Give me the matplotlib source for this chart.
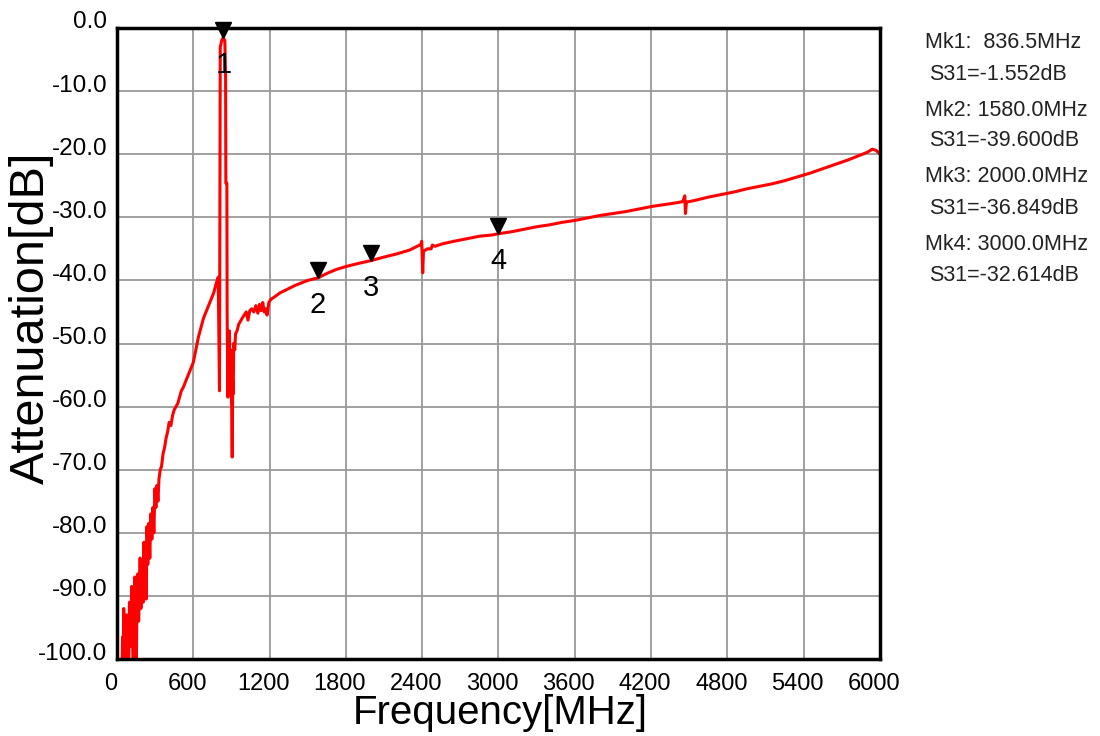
import matplotlib
matplotlib.use("Agg")
import matplotlib.pyplot as plt
import matplotlib.transforms as mtransforms

# S31 trace (MHz, dB)
freq = [40, 44, 48, 53, 58, 63, 68, 74, 80, 86, 92, 98, 104, 110, 116, 122, 128, 134, 140, 146,
        152, 158, 164, 170, 176, 182, 188, 194, 200, 206, 212, 218, 224, 230, 236, 242, 250, 258,
        266, 274, 282, 290, 298, 306, 314, 322, 330, 340, 350, 362, 374, 386, 398, 410, 424, 436,
        450, 464, 478, 492, 506, 520, 540, 560, 580, 600, 620, 640, 660, 680, 700, 720, 740, 760,
        780, 796, 806, 812, 826, 836.5, 848, 854, 856, 864, 866, 872, 876, 880, 884, 888, 894, 898,
        902, 906, 910, 914, 918, 926, 932, 944, 956, 970, 984, 1000, 1016, 1030, 1044, 1060, 1076,
        1092, 1108, 1120, 1134, 1146, 1158, 1170, 1180, 1194, 1210, 1240, 1280, 1320, 1360, 1400,
        1450, 1500, 1580, 1650, 1720, 1800, 1900, 2000, 2100, 2200, 2300, 2390, 2396, 2404, 2410,
        2440, 2470, 2480, 2500, 2560, 2650, 2750, 2850, 2950, 3000, 3100, 3200, 3300, 3400, 3500,
        3600, 3700, 3800, 3900, 4000, 4100, 4200, 4300, 4400, 4450, 4465, 4470, 4478, 4550, 4650,
        4750, 4850, 4950, 5050, 5150, 5250, 5350, 5450, 5550, 5650, 5750, 5850, 5900, 5940, 5970,
        6000]
s31 = [-101, -96.5, -101, -92, -100, -95, -101, -93, -99, -96, -101, -91, -98, -93, -88.5, -97,
       -101, -92, -87, -95, -101, -89, -86.5, -94, -90, -84, -92, -87, -86, -91, -81.5, -88, -84,
       -90.5, -79, -85, -78.5, -84, -77, -81, -76, -80, -73, -76, -72.5, -75, -71.5, -70, -69.5,
       -67.5, -66.5, -65, -64, -62.5, -63, -61.5, -60.5, -60, -59.5, -58.5, -57.5, -57, -56, -55,
       -54, -53, -51, -49, -47.5, -46, -45, -44, -43, -42, -40.5, -39.5, -57.5, -3, -1.8, -1.55,
       -2, -8, -24.6, -24.6, -45, -58.5, -50, -57, -48, -56, -51, -58, -60, -68, -56, -58, -50,
       -51, -48.5, -48, -47, -46.5, -46, -45.5, -45, -46.3, -44.8, -44.5, -45, -44, -45.2, -43.8,
       -44.8, -43.5, -45, -44.5, -45.5, -43.5, -43, -42.6, -42, -41.6, -41.2, -40.8, -40.4, -40,
       -39.6, -38.9, -38.3, -37.8, -37.3, -36.85, -36.3, -35.8, -35.2, -34.3, -33.8, -38.8, -35.4,
       -35, -35, -34.4, -34.6, -34.2, -33.8, -33.4, -33, -32.8, -32.6, -32.3, -31.9, -31.5, -31.2,
       -30.8, -30.5, -30.1, -29.7, -29.4, -29.1, -28.7, -28.3, -28, -27.7, -27.5, -26.6, -29.4,
       -27.6, -27.3, -26.8, -26.4, -26, -25.5, -25.1, -24.7, -24.2, -23.6, -23, -22.3, -21.6,
       -20.9, -20.1, -19.7, -19.2, -19.4, -20]

# markers
mk_names = ["1", "2", "3", "4"]
mk_freq = [836.5, 1580.0, 2000.0, 3000.0]
mk_db = [-1.552, -39.600, -36.849, -32.614]

xticks = [0, 600, 1200, 1800, 2400, 3000, 3600, 4200, 4800, 5400, 6000]
yticks = [0, -10, -20, -30, -40, -50, -60, -70, -80, -90, -100]

fam = ["Liberation Sans", "DejaVu Sans"]

fig = plt.figure(figsize=(11, 7.36), dpi=100)
ax = fig.add_axes([117 / 1100, 1 - 659 / 736, 763 / 1100, 631 / 736])

ax.plot(freq, s31, color="#ff0000", lw=2.2, zorder=3)

ax.set_xlim(0, 6000)
ax.set_ylim(-100, 0)
ax.set_xticks(xticks)
ax.set_yticks(yticks)
ax.set_xticklabels([str(t) for t in xticks], family=fam, fontsize=17)
ax.set_yticklabels(["%.1f" % t for t in yticks], family=fam, fontsize=17.5)
ax.tick_params(length=0)
ax.tick_params(axis="y", pad=7)
ax.tick_params(axis="x", pad=10)
ax.grid(True, color="#999999", lw=1.3, zorder=1)
for s in ax.spines.values():
    s.set_linewidth(2.5)
    s.set_zorder(4)

# shift tick labels a little like the reference
for lab in ax.get_yticklabels():
    lab.set_transform(lab.get_transform() + mtransforms.ScaledTranslation(0, 8 / 100, fig.dpi_scale_trans))
for lab in ax.get_xticklabels():
    lab.set_transform(lab.get_transform() + mtransforms.ScaledTranslation(-6 / 100, 0, fig.dpi_scale_trans))

ax.set_xlabel("Frequency[MHz]", family=fam, fontsize=29, va="center")
ax.xaxis.set_label_coords((500 - 117) / 763, (659 - 713) / 631)
ax.set_ylabel("Attenuation[dB]", family=fam, fontsize=35, va="center")
ax.yaxis.set_label_coords((31 - 117) / 763, (659 - 318) / 631)

# marker triangles (tip on the trace) and numbers below
tri_tr = mtransforms.offset_copy(ax.transData, fig=fig, x=0, y=7.5, units="dots")
ax.plot(mk_freq, mk_db, "v", color="black", ms=11, transform=tri_tr, clip_on=False, zorder=5)
lab_tr = mtransforms.offset_copy(ax.transData, fig=fig, x=0, y=-27, units="dots")
for n, f, d in zip(mk_names, mk_freq, mk_db):
    ax.text(f, d, n, transform=lab_tr, ha="center", va="center", fontsize=21,
            family=fam, color="black", zorder=5)

# marker readout on the right
for i, (f, d) in enumerate(zip(mk_freq, mk_db)):
    y0 = 1 - (43 + 67 * i) / 736
    ftxt = ("%.1fMHz" % f)
    sep = ":  " if f < 1000 else ": "
    fig.text(925 / 1100, y0, "Mk%d%s%s" % (i + 1, sep, ftxt), fontsize=15.5,
             family=fam, color="#222222", va="center", ha="left")
    fig.text(929 / 1100, y0 - 31 / 736, "S31=%.3fdB" % d, fontsize=15.5,
             family=fam, color="#222222", va="center", ha="left")

fig.savefig("out.png", dpi=100)
